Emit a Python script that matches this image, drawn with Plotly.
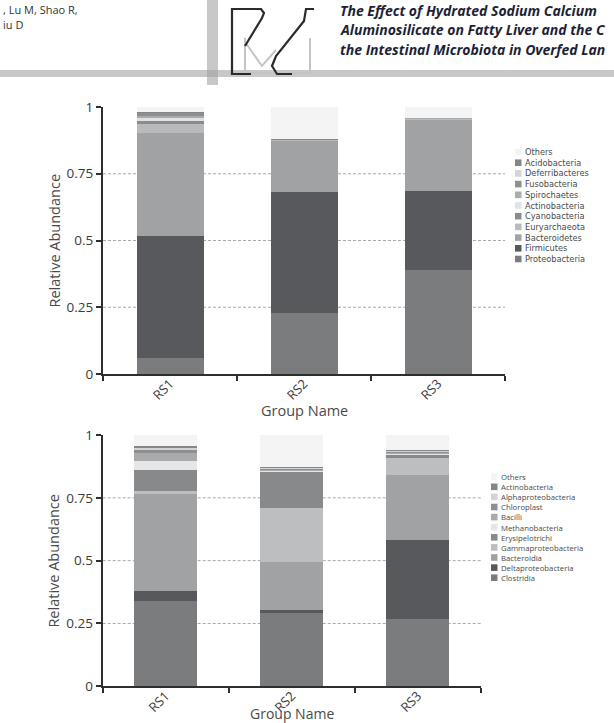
import plotly.graph_objects as go

W, H = 614, 723

groups = ["RS1", "RS2", "RS3"]

# ---- Phylum level (top chart), stacked bottom -> top ----
phylum_names = ["Proteobacteria", "Firmicutes", "Bacteroidetes", "Euryarchaeota",
                "Cyanobacteria", "Actinobacteria", "Spirochaetes", "Fusobacteria",
                "Deferribacteres", "Acidobacteria", "Others"]
phylum_colors = ["#7b7c7e", "#58595c", "#a1a2a4", "#b9babc", "#8a8b8d", "#e2e2e2",
                 "#aaabad", "#8e8f91", "#d5d5d5", "#858688", "#f4f4f4"]
phylum_RS1 = [0.061, 0.457, 0.386, 0.032, 0.015, 0.007, 0.008, 0.013, 0.002, 0.002, 0.017]
phylum_RS2 = [0.227, 0.453, 0.196, 0.001, 0.0005, 0.0005, 0.0005, 0.0005, 0.0005, 0.0005, 0.120]
phylum_RS3 = [0.389, 0.298, 0.268, 0.001, 0.001, 0.001, 0.001, 0.0005, 0.0005, 0.0005, 0.0395]

# ---- Class level (bottom chart), stacked bottom -> top ----
class_names = ["Clostridia", "Deltaproteobacteria", "Bacteroidia", "Gammaproteobacteria",
               "Erysipelotrichi", "Methanobacteria", "Bacilli", "Chloroplast",
               "Alphaproteobacteria", "Actinobacteria", "Others"]
class_colors = ["#7b7c7e", "#58595c", "#a1a2a4", "#bdbec0", "#88898b", "#e6e6e6",
                "#a9aaac", "#8e8f91", "#d3d3d3", "#858688", "#f4f4f4"]
class_RS1 = [0.341, 0.039, 0.386, 0.013, 0.082, 0.037, 0.030, 0.011, 0.012, 0.006, 0.043]
class_RS2 = [0.291, 0.013, 0.190, 0.215, 0.146, 0.004, 0.005, 0.003, 0.003, 0.002, 0.128]
class_RS3 = [0.267, 0.316, 0.256, 0.069, 0.016, 0.003, 0.005, 0.004, 0.003, 0.002, 0.059]

y_ticks = [0, 0.25, 0.5, 0.75, 1]
y_ticktext = ["0", "0.25", "0.5", "0.75", "1"]
x_title = "Group Name"
y_title = "Relative Abundance"


def px(x):
    return x / W


def py(y):
    return (H - y) / H


FONT = "Open Sans"
fig = go.Figure()

for names, colors, series, xa, ya in [
    (phylum_names, phylum_colors, [phylum_RS1, phylum_RS2, phylum_RS3], "x", "y"),
    (class_names, class_colors, [class_RS1, class_RS2, class_RS3], "x2", "y2"),
]:
    for i, name in enumerate(names):
        fig.add_trace(go.Bar(
            x=groups, y=[s[i] for s in series], name=name,
            marker=dict(color=colors[i], line=dict(width=0)),
            width=0.5, xaxis=xa, yaxis=ya, showlegend=False,
        ))

axis_common = dict(showline=True, linecolor="#2e2e2e", linewidth=2, ticks="outside",
                   ticklen=5, tickwidth=1.5, tickcolor="#2e2e2e", showgrid=False,
                   zeroline=False, automargin=False,
                   tickfont=dict(family=FONT, size=13.5, color="#3a3a3a"))

xcommon = dict(axis_common, type="category", tickson="boundaries", tickangle=-45,
               range=[-0.5, 2.5], ticklabelstandoff=-5,
               tickfont=dict(family=FONT, size=13, color="#3a3a3a"))
ycommon = dict(axis_common, range=[0, 1], tickvals=y_ticks, ticktext=y_ticktext)

fig.update_layout(
    width=W, height=H, margin=dict(l=0, r=0, t=0, b=0, autoexpand=False),
    paper_bgcolor="white", plot_bgcolor="white", barmode="stack",
    xaxis=dict(xcommon, domain=[px(103), px(505)], anchor="y"),
    yaxis=dict(ycommon, domain=[py(374), py(107)], anchor="x"),
    xaxis2=dict(xcommon, domain=[px(102.7), px(480.7)], anchor="y2"),
    yaxis2=dict(ycommon, domain=[py(686.3), py(435)], anchor="x2"),
)

shapes = []
annotations = []

# axis titles
title_font = dict(family=FONT, size=14.5, color="#4a4a4a")
for xc, yc, fs in [(304, 410, 14.5), (291.7, 713, 14)]:
    annotations.append(dict(xref="paper", yref="paper", x=px(xc), y=py(yc), text=x_title,
                            showarrow=False, xanchor="center", yanchor="middle",
                            font=dict(title_font, size=fs)))
for yc in [240.5, 560.6]:
    annotations.append(dict(xref="paper", yref="paper", x=px(54), y=py(yc), text=y_title,
                            showarrow=False, xanchor="center", yanchor="middle",
                            textangle=-90, font=title_font))

# dashed gridlines
for xr, yr in [("x domain", "y"), ("x2 domain", "y2")]:
    for v in [0.25, 0.5, 0.75]:
        shapes.append(dict(type="line", xref=xr, yref=yr, x0=0, x1=1, y0=v, y1=v,
                           line=dict(color="#a8a8a8", width=1, dash="3px,2px"), layer="below"))

# manual compact legends (squares + one multi-line text block each)
for names, colors, sq_x, txt_x, y0, step, fam in [
    (phylum_names, phylum_colors, 515, 522.5, 152, 10.7, "DejaVu Sans"),
    (class_names, class_colors, 491, 498.5, 476.7, 10.1, FONT),
]:
    order = list(reversed(range(len(names))))
    for k, idx in enumerate(order):
        yc = y0 + k * step
        shapes.append(dict(type="rect", xref="paper", yref="paper",
                           x0=px(sq_x), x1=px(sq_x + 6.5), y0=py(yc + 3.3), y1=py(yc - 3.3),
                           fillcolor=colors[idx], line=dict(width=0)))
    yc_mid = y0 + step * (len(order) - 1) / 2
    annotations.append(dict(xref="paper", yref="paper", x=px(txt_x), y=py(yc_mid),
                            xanchor="left", yanchor="middle", showarrow=False, align="left",
                            text="<br>".join(names[idx] for idx in order),
                            font=dict(family=fam, size=step / 1.3, color="#4a4a4a")))

# ---- header decoration ----
shapes.append(dict(type="rect", xref="paper", yref="paper", x0=0, x1=1, y0=py(77), y1=py(70),
                   fillcolor="#c8c8c8", line=dict(width=0)))
shapes.append(dict(type="rect", xref="paper", yref="paper", x0=px(207), x1=px(218),
                   y0=py(85), y1=py(0), fillcolor="#c8c8c8", line=dict(width=0)))
shapes.append(dict(type="rect", xref="paper", yref="paper", x0=px(207), x1=px(218),
                   y0=py(77), y1=py(70), fillcolor="#b0b0b0", line=dict(width=0)))


def path(points):
    return "M " + " L ".join(f"{px(x)},{py(y)}" for x, y in points)


# light gray logo strokes
for pts in [[(245, 38), (245, 73), (310, 73), (310, 38)],
            [(245, 42), (262, 66), (276, 50)]]:
    shapes.append(dict(type="path", xref="paper", yref="paper", path=path(pts),
                       line=dict(color="#c4c4c4", width=2)))
# dark logo strokes
for pts in [[(251, 74), (232, 74), (232, 9), (261, 9), (264, 13), (262, 18), (245, 46)],
            [(314, 9), (306, 9), (304, 21), (276, 56), (272, 66), (277, 74), (292, 74)]]:
    shapes.append(dict(type="path", xref="paper", yref="paper", path=path(pts),
                       line=dict(color="#2b2b2b", width=2.2)))

annotations.append(dict(xref="paper", yref="paper", x=px(1), y=py(10), xanchor="left",
                        yanchor="middle", showarrow=False, text=", Lu M, Shao R,",
                        font=dict(family=FONT, size=11, color="#333")))
annotations.append(dict(xref="paper", yref="paper", x=px(1), y=py(24.5), xanchor="left",
                        yanchor="middle", showarrow=False, text="iu D",
                        font=dict(family=FONT, size=11, color="#333")))
title_lines = ["The Effect of Hydrated Sodium Calcium",
               "Aluminosilicate on Fatty Liver and the C",
               "the Intestinal Microbiota in Overfed Lan"]
for j, t in enumerate(title_lines):
    annotations.append(dict(xref="paper", yref="paper", x=px(338), y=py(10.5 + 19.3 * j),
                            xanchor="left", yanchor="middle", showarrow=False,
                            text=f"<b><i>{t}</i></b>",
                            font=dict(family=FONT, size=14, color="#1e1f36")))

fig.update_layout(shapes=shapes, annotations=annotations)
fig.write_html("out.html")
